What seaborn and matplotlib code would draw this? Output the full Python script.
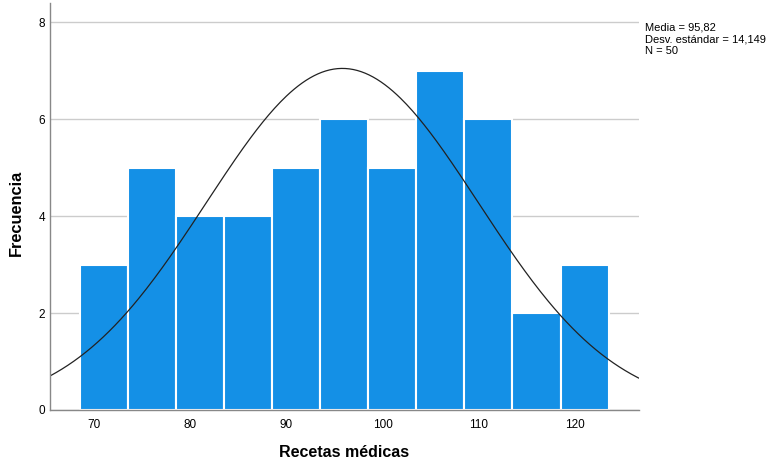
import numpy as np
import pandas as pd
import matplotlib
matplotlib.use("Agg")
import matplotlib.pyplot as plt
import seaborn as sns

# Datos del histograma
bin_start = 68.5
bin_width = 5
counts = [3, 5, 4, 4, 5, 6, 5, 7, 6, 2, 3]
media = 95.82
desv = 14.149
n = 50

bin_end = bin_start + bin_width * len(counts)
centers = bin_start + bin_width / 2 + bin_width * np.arange(len(counts))
df = pd.DataFrame({"recetas": centers, "frecuencia": counts})

sns.set_style("white")
plt.rcParams['font.family'] = ['Liberation Sans', 'DejaVu Sans']

fig = plt.figure(figsize=(7.67, 4.62), dpi=100)
ax = fig.add_axes([0.0652, 0.1126, 0.7678, 0.881])

ax.grid(axis='y', color='#cccccc', linewidth=1)
ax.set_axisbelow(True)

sns.histplot(data=df, x="recetas", weights="frecuencia",
             binwidth=bin_width, binrange=(bin_start, bin_end),
             color='#1490E6', alpha=1, edgecolor='white', linewidth=1.5, ax=ax)

# Curva normal
xs = np.linspace(65.43, 126.65, 300)
ys = n * bin_width / (desv * np.sqrt(2 * np.pi)) * np.exp(-0.5 * ((xs - media) / desv) ** 2)
sns.lineplot(x=xs, y=ys, color='#222222', linewidth=0.9, ax=ax)

ax.set_xlim(65.43, 126.65)
ax.set_ylim(0, 8.4)
ax.set_xticks([70, 80, 90, 100, 110, 120])
ax.set_yticks([0, 2, 4, 6, 8])
ax.tick_params(axis='both', length=0, labelsize=8.5, labelcolor='black')
ax.tick_params(axis='x', pad=6.5)
ax.tick_params(axis='y', pad=3.5)

for s in ['top', 'right']:
    ax.spines[s].set_visible(False)
for s in ['left', 'bottom']:
    ax.spines[s].set_color('#888888')
    ax.spines[s].set_linewidth(1)

ax.set_xlabel("Recetas médicas", fontsize=11.5, fontweight='bold', labelpad=10, color='black')
ax.set_ylabel("Frecuencia", fontsize=11.8, fontweight='bold', color='black')
ax.yaxis.set_label_coords(-0.044, 0.484)

fig.text(645 / 767, 1 - 22 / 462,
         "Media = 95,82\nDesv. estándar = 14,149\nN = 50",
         fontsize=8, va='top', ha='left', linespacing=1.25, color='black')

fig.savefig("out.png", dpi=100)
